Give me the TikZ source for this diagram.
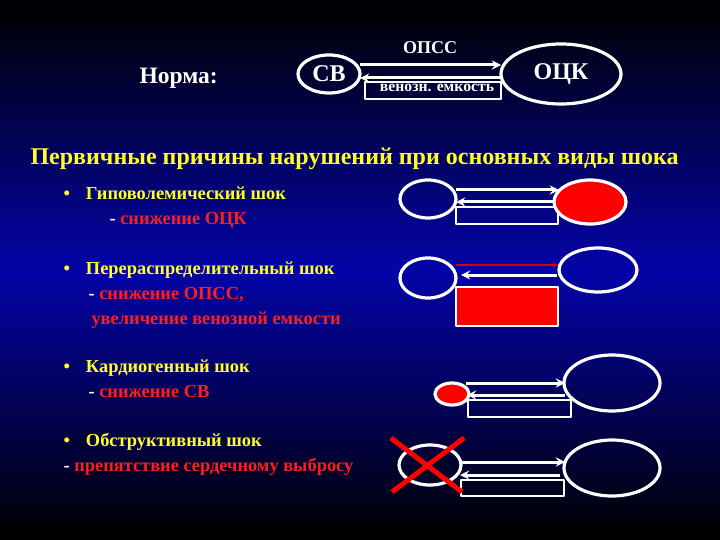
\documentclass[tikz,border=0pt]{standalone}
\usepackage{fontspec}
\setmainfont{Liberation Serif}
\usetikzlibrary{shapes.geometric}
\definecolor{bgblue}{RGB}{4,4,168}
\definecolor{ttyellow}{RGB}{255,255,40}
\definecolor{ttred}{RGB}{255,30,30}
\tikzset{
  oval/.style={draw=white,line width=3.2pt,ellipse,inner sep=0pt},
  flow/.style={draw=white,line width=3pt,->},
  vbox/.style={draw=white,line width=2.6pt},
  head/.style={anchor=base west,text=ttyellow,font=\bfseries\fontsize{18.4}{20}\selectfont},
  sub/.style={anchor=base west,text=ttred,font=\bfseries\fontsize{18.4}{20}\selectfont},
}
\newcommand{\dsh}{\textcolor{white}{-} }
\begin{document}
\begin{tikzpicture}[x=1pt,y=-1pt,>=stealth,line join=round]
	\useasboundingbox (0,0) rectangle (720,540);
	\shade[top color=black,bottom color=black,middle color=bgblue] (0,0) rectangle (720,540);
	% norm
	\node[anchor=base west,text=white,font=\bfseries\fontsize{23.5}{26}\selectfont] (norma) at (136,84) {Норма:};
	\node[oval,minimum width=62,minimum height=38,text=white,font=\bfseries\fontsize{24}{26}\selectfont] (sv) at (329,74) {СВ};
	\node[oval,minimum width=120,minimum height=60,text=white,font=\bfseries\fontsize{24}{26}\selectfont] (ock) at (561,74) {ОЦК};
	\node[vbox,minimum width=136,minimum height=17,inner sep=0pt] (ven) at (433,90.5) {};
	\node[text=white,font=\bfseries\fontsize{15.7}{17}\selectfont,anchor=base] (venl) at (437,92) {венозн. емкость};
	\node[text=white,font=\bfseries\fontsize{18}{20}\selectfont,anchor=base] (opss) at (430,54) {ОПСС};
	\path (360,65) coordinate (a1) (501,65) coordinate (b1)
	      (500,78) coordinate (c1) (360,78) coordinate (d1);
	\draw[flow] (a1) -- (b1);
	\draw[flow] (c1) -- (d1);
	% title
	\node[anchor=base west,text=ttyellow,font=\bfseries\fontsize{24}{26}\selectfont] (title) at (27,165) {Первичные причины нарушений при основных виды шока};
	% list
	\node[head] (i1) at (60,200) {•\hspace{16pt}Гиповолемический шок};
	\node[sub] (s1) at (106,225) {\dsh снижение ОЦК};
	\node[head] (i2) at (60,274) {•\hspace{16pt}Перераспределительный шок};
	\node[sub] (s2) at (85,299) {\dsh снижение ОПСС,};
	\node[sub] (s2b) at (88,324) {увеличение венозной емкости};
	\node[head] (i3) at (60,372) {•\hspace{16pt}Кардиогенный шок};
	\node[sub] (s3) at (85,397) {\dsh снижение СВ};
	\node[head] (i4) at (60,446) {•\hspace{16pt}Обструктивный шок};
	\node[sub] (s4) at (60,471) {\dsh препятствие сердечному выбросу};
	% hypovolemic
	\node[oval,minimum width=56,minimum height=38] (l1) at (428,199) {};
	\node[vbox,minimum width=102,minimum height=17,inner sep=0pt] (r1) at (507,215.5) {};
	\node[oval,fill=red,minimum width=72,minimum height=44] (o1) at (590,202) {};
	\path (456,190) coordinate (p1) (559,190) coordinate (q1)
	      (554,202) coordinate (u1) (456,202) coordinate (w1);
	\draw[flow] (p1) -- (q1);
	\draw[flow] (u1) -- (w1);
	% distributive
	\node[oval,minimum width=56,minimum height=40] (l2) at (428,278) {};
	\node[oval,minimum width=78,minimum height=44] (o2) at (598,270) {};
	\node[vbox,fill=red,minimum width=102,minimum height=39,inner sep=0pt] (r2) at (507,306.5) {};
	\path (456,265) coordinate (p2) (558,265) coordinate (q2)
	      (557,275) coordinate (u2) (461,275) coordinate (w2);
	\draw[->,red!85!black,line width=1.2pt] (p2) -- (q2);
	\draw[flow] (u2) -- (w2);
	% cardiogenic
	\node[oval,fill=red,minimum width=34,minimum height=22] (l3) at (452,394) {};
	\node[oval,minimum width=96,minimum height=56] (o3) at (612,383) {};
	\node[vbox,minimum width=103,minimum height=17,inner sep=0pt] (r3) at (519.5,408.5) {};
	\path (466,383) coordinate (p3) (565,383) coordinate (q3)
	      (565,395) coordinate (u3) (467,395) coordinate (w3);
	\draw[flow] (p3) -- (q3);
	\draw[flow] (u3) -- (w3);
	% obstructive
	\node[oval,minimum width=62,minimum height=40] (l4) at (430,465) {};
	\node[oval,minimum width=96,minimum height=56] (o4) at (612,468) {};
	\node[vbox,minimum width=103,minimum height=16,inner sep=0pt] (r4) at (512.5,488) {};
	\path (462,462) coordinate (p4) (565,462) coordinate (q4)
	      (560,475) coordinate (u4) (460,475) coordinate (w4);
	\draw[flow] (p4) -- (q4);
	\draw[flow] (u4) -- (w4);
	\path (391,438) coordinate (x1) (462,492) coordinate (x2)
	      (392,492) coordinate (x3) (464,438) coordinate (x4);
	\draw[red,line width=5pt] (x1) -- (x2) (x3) -- (x4);
\end{tikzpicture}
\end{document}
